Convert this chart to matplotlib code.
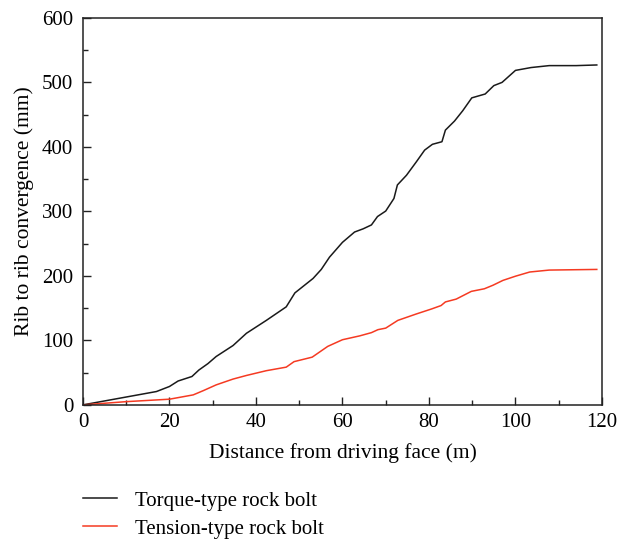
import matplotlib
matplotlib.use("Agg")
import matplotlib.pyplot as plt
from matplotlib.ticker import MultipleLocator
from matplotlib.lines import Line2D

plt.rcParams['font.family'] = ['Liberation Serif', 'DejaVu Serif']

torque_x = [0, 17, 20, 22, 25.2, 26.8, 28.9, 30.8, 34.7, 37.8, 42.4, 47, 49, 53.2, 55.1,
            57, 60, 62.8, 64.8, 66.7, 68.1, 70, 71.9, 72.7, 74.8, 77.1, 79, 80.8, 83,
            83.8, 85.9, 87.8, 89.9, 93, 95, 96.9, 100, 103.6, 107.8, 114, 118.8]
torque_y = [0, 20.7, 28.5, 37, 44, 54, 64, 75, 92, 111, 131, 152, 173.6, 196, 210,
            229, 252, 268, 273, 279, 292, 300.5, 320, 341, 356, 377, 395, 404, 408,
            426, 440, 456, 476, 482, 495, 500, 518.6, 523, 526, 526, 527]

tension_x = [0, 10, 20, 25.5, 27.8, 30.8, 34.7, 37.8, 42.4, 47, 48.8, 53, 56.6, 60,
             64, 66.7, 68.2, 70, 72.8, 77.1, 80.6, 82.8, 83.8, 86.3, 89.8, 92.8, 94.8,
             97.1, 100, 103.3, 107.8, 118.8]
tension_y = [0, 5, 8.8, 15.5, 22, 31, 40, 45.6, 53, 58.5, 67, 74, 90.7, 101,
             107, 112, 116.6, 119, 131, 141, 148.7, 154, 159.6, 164, 176, 180, 185.5,
             193, 199.5, 206, 209, 210]

labels = ["Torque-type rock bolt", "Tension-type rock bolt"]
colors = ["#1a1a1a", "#f53a22"]

fig = plt.figure(figsize=(6.19, 5.42), dpi=100)
ax = fig.add_axes([0.134, 0.253, 0.9725 - 0.134, 0.967 - 0.253])
ax.plot(torque_x, torque_y, color=colors[0], lw=1.1)
ax.plot(tension_x, tension_y, color=colors[1], lw=1.1)
ax.set_xlim(0, 120)
ax.set_ylim(0, 600)
ax.xaxis.set_major_locator(MultipleLocator(20))
ax.xaxis.set_minor_locator(MultipleLocator(10))
ax.yaxis.set_major_locator(MultipleLocator(100))
ax.yaxis.set_minor_locator(MultipleLocator(50))
ax.tick_params(which='both', direction='in', labelsize=15, top=False, right=False,
               width=1.0, color='#222222')
ax.tick_params(axis='x', which='major', pad=6)
ax.tick_params(axis='y', which='major', pad=7)
ax.tick_params(which='major', length=6)
ax.tick_params(which='minor', length=3.5)
for s in ax.spines.values():
    s.set_linewidth(1.1)
    s.set_color('#222222')
ax.set_xlabel("Distance from driving face (m)", fontsize=15.5, labelpad=8)
ax.set_ylabel("Rib to rib convergence (mm)", fontsize=15.5, labelpad=6)

handles = [Line2D([], [], color=c, lw=1.1) for c in colors]
fig.legend(handles, labels, loc='center left', bbox_to_anchor=(0.134, 0.05),
           frameon=False, fontsize=15, handlelength=1.65, handletextpad=0.85,
           labelspacing=0.4, borderpad=0, borderaxespad=0)
fig.savefig("out.png", dpi=100)
